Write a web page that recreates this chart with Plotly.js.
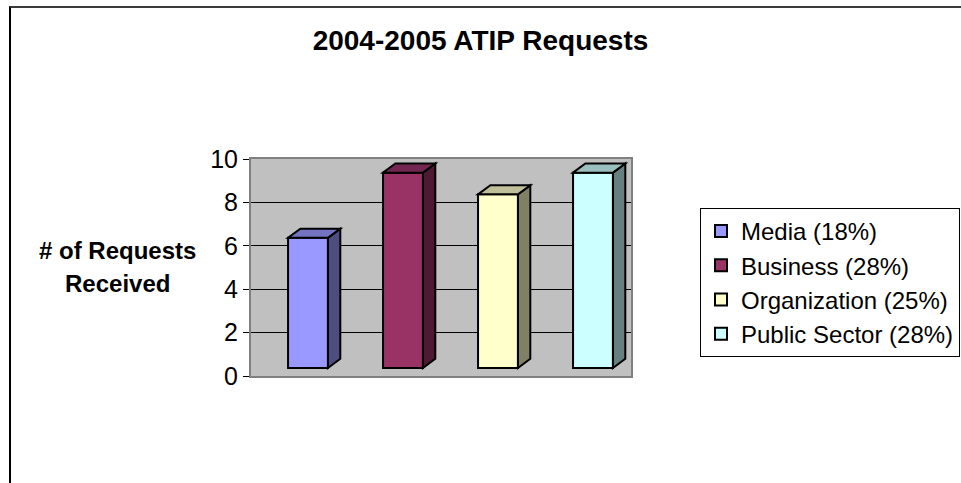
<!DOCTYPE html>
<html>
<head>
<meta charset="utf-8">
<script src="https://cdn.plot.ly/plotly-3.0.1.min.js"></script>
<style>
  html, body { margin: 0; padding: 0; background: #ffffff; }
  #chart { position: absolute; left: 0; top: 0; width: 961px; height: 483px; }
  #frame { position: absolute; left: 9px; top: 6px; width: 1000px; height: 600px;
           border-top: 2px solid #3a3a3a; border-left: 2px solid #000; pointer-events: none; }
</style>
</head>
<body>
<div id="chart"></div>
<div id="frame"></div>
<script>
// ---- data ----
const categories = ['Media (18%)', 'Business (28%)', 'Organization (25%)', 'Public Sector (28%)'];
const requests = [6, 9, 8, 9];
const yTicks = [0, 2, 4, 6, 8, 10];

// ---- styles ----
const frontColors = ['#9999FF', '#993366', '#FFFFCC', '#CCFFFF'];
const sideColors  = ['#4D4D80', '#4D1A33', '#808066', '#668080'];
const topColors   = ['#7373BF', '#732650', '#BFBF99', '#99BFBF'];
const BAR_OFFSET = 0.1;   // shift of front face from category slot
const BAR_WIDTH = 0.42;
const DEPTH_X = 0.13;
const DEPTH_Y = 0.42;
const FLOOR = 0.37;
const FONT = 'Liberation Sans, Arial, sans-serif';

const traces = categories.map((c, i) => ({
  type: 'bar',
  name: c,
  x: [i + BAR_OFFSET],
  y: [requests[i]],
  base: FLOOR,
  width: BAR_WIDTH,
  legendgroup: 'g' + i,
  marker: { color: frontColors[i], line: { color: '#000', width: 2 } },
  hoverinfo: 'skip'
}));

const shapes = [];
categories.forEach((c, i) => {
  const xl = i + BAR_OFFSET - BAR_WIDTH / 2;
  const xr = i + BAR_OFFSET + BAR_WIDTH / 2;
  const yb = FLOOR;
  const yt = FLOOR + requests[i];
  shapes.push({
    type: 'path', xref: 'x', yref: 'y', layer: 'above',
    path: `M ${xr} ${yb} L ${xr + DEPTH_X} ${yb + DEPTH_Y} L ${xr + DEPTH_X} ${yt + DEPTH_Y} L ${xr} ${yt} Z`,
    fillcolor: sideColors[i], line: { color: '#000', width: 2 }
  });
  shapes.push({
    type: 'path', xref: 'x', yref: 'y', layer: 'above',
    path: `M ${xl} ${yt} L ${xl + DEPTH_X} ${yt + DEPTH_Y} L ${xr + DEPTH_X} ${yt + DEPTH_Y} L ${xr} ${yt} Z`,
    fillcolor: topColors[i], line: { color: '#000', width: 2 }
  });
});

const layout = {
  width: 961, height: 483,
  margin: { l: 251, r: 330, t: 159, b: 107 },
  paper_bgcolor: 'rgba(0,0,0,0)',
  plot_bgcolor: '#C0C0C0',
  barmode: 'overlay',
  showlegend: true,
  title: {
    text: '<b>2004-2005 ATIP Requests</b>',
    font: { family: FONT, size: 28, color: '#000' },
    x: 0.5, xref: 'container', xanchor: 'center',
    y: 1 - 40 / 483, yref: 'container', yanchor: 'middle'
  },
  xaxis: {
    range: [-0.5, 3.5], showticklabels: false, ticks: '', showgrid: false,
    zeroline: false, showline: true, mirror: true, linecolor: '#808080', linewidth: 2, fixedrange: true
  },
  yaxis: {
    range: [0, 10], tickvals: yTicks, ticktext: yTicks.map(String),
    ticks: 'outside', ticklen: 6, tickcolor: '#000', tickwidth: 1,
    tickfont: { family: FONT, size: 25, color: '#000' },
    showgrid: true, gridcolor: '#000', gridwidth: 1,
    zeroline: false, showline: true, mirror: true, linecolor: '#808080', linewidth: 2, fixedrange: true
  },
  legend: {
    x: 700 / 961, xanchor: 'left', xref: 'container',
    y: 1 - 208 / 483, yanchor: 'top', yref: 'container',
    bgcolor: '#fff', bordercolor: '#000', borderwidth: 1,
    font: { family: FONT, size: 24, color: '#000' },
    traceorder: 'normal', tracegroupgap: 3, itemclick: false, itemdoubleclick: false
  },
  annotations: [
    { text: '<b># of Requests</b>', xref: 'paper', yref: 'paper', x: (117 - 251) / 380, y: (376 - 250) / 217,
      showarrow: false, xanchor: 'center', yanchor: 'middle', font: { family: FONT, size: 24, color: '#000' } },
    { text: '<b>Received</b>', xref: 'paper', yref: 'paper', x: (117 - 251) / 380, y: (376 - 283) / 217,
      showarrow: false, xanchor: 'center', yanchor: 'middle', font: { family: FONT, size: 24, color: '#000' } }
  ],
  shapes: shapes
};

Plotly.newPlot('chart', traces, layout, { displayModeBar: false, staticPlot: true });
</script>
</body>
</html>
